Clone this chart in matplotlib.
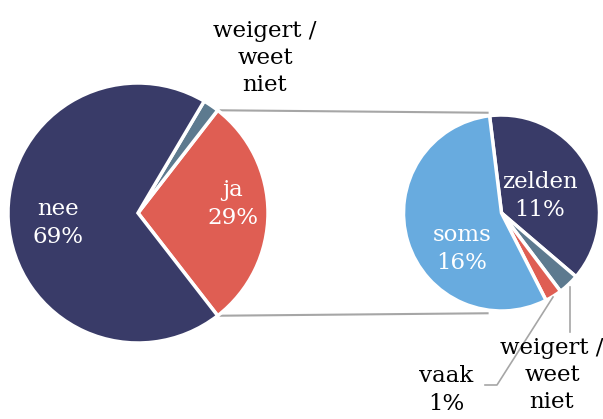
import matplotlib
matplotlib.use("Agg")
import matplotlib.pyplot as plt
import numpy as np

# Data
main_labels = ["ja", "weigert /\nweet\nniet", "nee"]
main_values = [29, 2, 69]
main_pct = ["29%", "", "69%"]

sub_labels = ["zelden", "weigert /\nweet\nniet", "vaak", "soms"]
sub_values = [11, 1.0, 0.8, 16]
sub_pct = ["11%", "", "1%", "16%"]

navy = "#393b68"
red = "#df5e53"
slate = "#5d7a8f"
lblue = "#68abdf"
main_colors = [red, slate, navy]
sub_colors = [navy, slate, red, lblue]

W, H = 603, 419
fig = plt.figure(figsize=(W / 100, H / 100), dpi=100)
ax = fig.add_axes([0, 0, 1, 1])

font = "DejaVu Serif"
fs = 16.5
ls = 1.3

# left pie
c1 = (138, H - 213)
r1 = 130
ja_ang = main_values[0] / sum(main_values) * 360
start1 = -ja_ang / 2
ax.pie(main_values, colors=main_colors, center=c1, radius=r1,
       startangle=start1, counterclock=True,
       wedgeprops=dict(edgecolor="white", linewidth=2.5))

# right pie
c2 = (501.5, H - 213)
r2 = 98
start2 = 97
ax.pie(sub_values, colors=sub_colors, center=c2, radius=r2,
       startangle=start2, counterclock=False,
       wedgeprops=dict(edgecolor="white", linewidth=2.5))

# connector lines
a = np.deg2rad(ja_ang / 2)
b = np.deg2rad(start2)
for s in (1, -1):
    x0 = c1[0] + r1 * np.cos(a) + 2
    y0 = c1[1] + s * r1 * np.sin(a)
    x1 = c2[0] + r2 * np.cos(b) - 2
    y1 = c2[1] + s * (r2 * np.sin(b) + 3)
    ax.plot([x0, x1], [y0, y1], color="#a6a6a6", lw=1.5, zorder=0)

def lab(x, y, s, c):
    ax.text(x, H - y, s, color=c, ha="center", va="center",
            fontsize=fs, family=font, linespacing=ls)

# labels left
lab(58, 223, "nee\n69%", "white")
lab(233, 204, "ja\n29%", "white")
lab(265, 58, main_labels[1], "black")

# labels right
lab(540, 196, "zelden\n11%", "white")
lab(462, 249, "soms\n16%", "white")
lab(552, 375, sub_labels[1], "black")
lab(446, 390, "vaak\n1%", "black")

# leader lines
ax.plot([570, 570], [H - 287, H - 332], color="#a6a6a6", lw=1.2)
ax.plot([553, 497, 485], [H - 297, H - 385, H - 385], color="#a6a6a6", lw=1.2)

ax.set_xlim(0, W)
ax.set_ylim(0, H)
ax.set_aspect("equal")
ax.axis("off")
fig.savefig("out.png", dpi=100)
